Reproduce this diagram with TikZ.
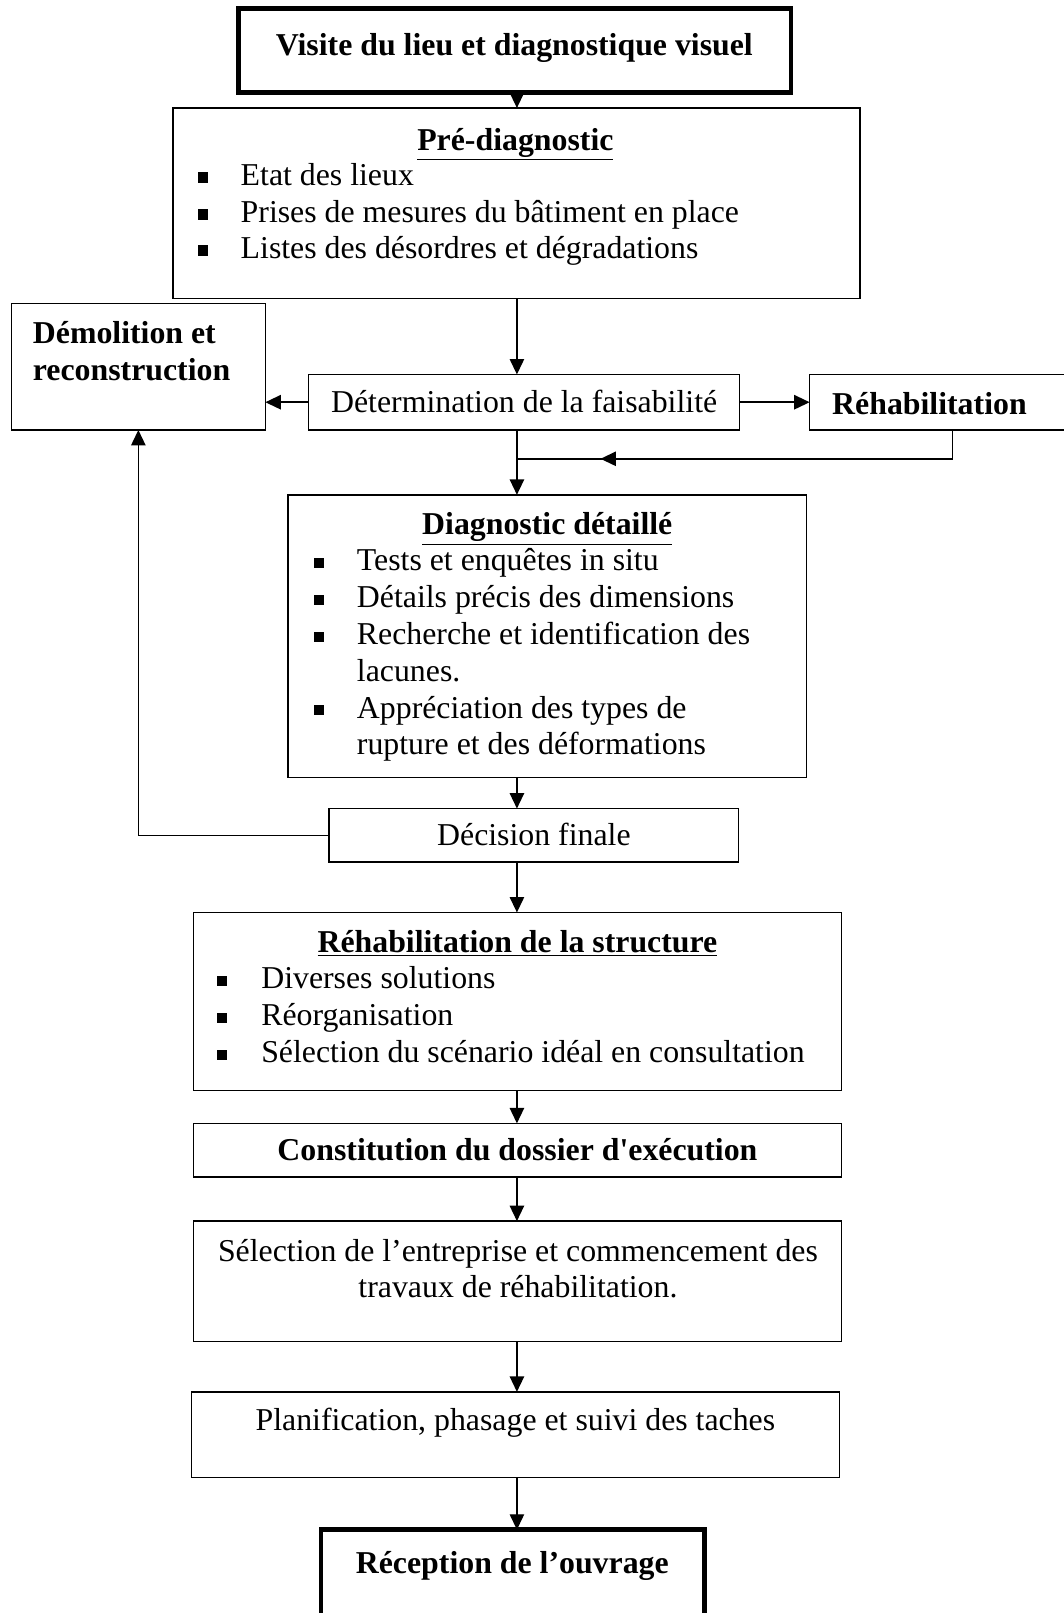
\documentclass[tikz,border=0pt]{standalone}
\usepackage{fontspec}
\setmainfont{Liberation Serif}
\usetikzlibrary{arrows.meta,calc,decorations.markings}
\tikzset{
	boite/.style={draw, line width=0.8pt, inner sep=0, outer sep=0, text height=0.5cm, text depth=0.1cm},
	cadre/.style={draw, line width=2.6pt, inner sep=0, outer sep=0},
	texte/.style={inner sep=0, outer sep=0, text height=0.5cm, text depth=0.1cm},
	puce/.style={fill, inner sep=0, minimum size=0.2cm, yshift=-0.05cm},
	fleche/.style={-{Triangle[length=0.3cm,width=0.28cm]}, line width=0.8pt},
	-<-/.style={decoration={markings,
			mark=at position #1 with {\arrow{Triangle[length=0.3cm,width=0.28cm]}}}, postaction={decorate}}
}

\begin{document}
\begin{tikzpicture}[line width=0.8pt, font=\fontsize{17.6}{21}\selectfont]
	\useasboundingbox (0,0) rectangle (20.68,-31.36);
	\coordinate (axe) at (10.05,0);
	% boites
	\node[cadre, minimum width=10.74cm, minimum height=1.64cm] (visite) at (10.01,-0.98) {};
	\node[texte] (visitel) at (10.0,-0.88) {\textbf{Visite du lieu et diagnostique visuel}};
	\node[boite, minimum width=13.36cm, minimum height=3.7cm] (prediag) at (10.04,-3.95) {};
	\node[texte] (prediagl) at (10.02,-2.72) {\underline{\textbf{Pré-diagnostic}}};
	\node[puce] (p11) at (3.94,-3.40) {};
	\node[texte, anchor=west] (p11l) at (4.68,-3.40) {Etat des lieux};
	\node[puce] (p12) at (3.94,-4.12) {};
	\node[texte, anchor=west] (p12l) at (4.68,-4.12) {Prises de mesures du bâtiment en place};
	\node[puce] (p13) at (3.94,-4.82) {};
	\node[texte, anchor=west] (p13l) at (4.68,-4.82) {Listes des désordres et dégradations};
	\node[boite, minimum width=4.94cm, minimum height=2.46cm] (demol) at (2.69,-7.13) {};
	\node[texte, anchor=west] (demoll1) at (0.64,-6.48) {\textbf{Démolition et}};
	\node[texte, anchor=west] (demoll2) at (0.64,-7.20) {\textbf{reconstruction}};
	\node[boite, minimum width=8.38cm, minimum height=1.08cm] (determ) at (10.19,-7.82) {Détermination de la faisabilité};
	\node[boite, minimum width=5.56cm, minimum height=1.08cm] (rehab) at (18.52,-7.82) {};
	\node[texte, anchor=west] (rehabl) at (16.18,-7.86) {\textbf{Réhabilitation}};
	\node[boite, minimum width=10.08cm, minimum height=5.5cm] (diag) at (10.64,-12.37) {};
	\node[texte] (diagl) at (10.64,-10.20) {\underline{\textbf{Diagnostic détaillé}}};
	\node[puce] (p21) at (6.20,-10.90) {};
	\node[texte, anchor=west] (p21l) at (6.94,-10.90) {Tests et enquêtes in situ};
	\node[puce] (p22) at (6.20,-11.62) {};
	\node[texte, anchor=west] (p22l) at (6.94,-11.62) {Détails précis des dimensions};
	\node[puce] (p23) at (6.20,-12.34) {};
	\node[texte, anchor=west] (p23l) at (6.94,-12.34) {Recherche et identification des};
	\node[texte, anchor=west] (p23m) at (6.94,-13.04) {lacunes.};
	\node[puce] (p24) at (6.20,-13.76) {};
	\node[texte, anchor=west] (p24l) at (6.94,-13.76) {Appréciation des types de};
	\node[texte, anchor=west] (p24m) at (6.94,-14.46) {rupture et des déformations};
	\node[boite, minimum width=7.96cm, minimum height=1.04cm] (decision) at (10.38,-16.24) {Décision finale};
	\node[boite, minimum width=12.6cm, minimum height=3.46cm] (rstruct) at (10.06,-19.47) {};
	\node[texte] (rstructl) at (10.06,-18.32) {\underline{\textbf{Réhabilitation de la structure}}};
	\node[puce] (p31) at (4.32,-19.02) {};
	\node[texte, anchor=west] (p31l) at (5.08,-19.02) {Diverses solutions};
	\node[puce] (p32) at (4.32,-19.74) {};
	\node[texte, anchor=west] (p32l) at (5.08,-19.74) {Réorganisation};
	\node[puce] (p33) at (4.32,-20.46) {};
	\node[texte, anchor=west] (p33l) at (5.08,-20.46) {Sélection du scénario idéal en consultation};
	\node[boite, minimum width=12.6cm, minimum height=1.04cm] (constit) at (10.06,-22.36) {\textbf{Constitution du dossier d\textquotesingle exécution}};
	\node[boite, minimum width=12.6cm, minimum height=2.34cm] (select) at (10.06,-24.91) {};
	\node[texte] (selectl1) at (10.07,-24.32) {Sélection de l’entreprise et commencement des};
	\node[texte] (selectl2) at (10.07,-25.02) {travaux de réhabilitation.};
	\node[boite, minimum width=12.6cm, minimum height=1.66cm] (planif) at (10.02,-27.89) {};
	\node[texte] (planifl) at (10.02,-27.62) {Planification, phasage et suivi des taches};
	\node[cadre, minimum width=7.46cm, minimum height=2.6cm] (recept) at (9.97,-31.04) {};
	\node[texte] (receptl) at (9.96,-30.40) {\textbf{Réception de l’ouvrage}};
	% fleches
	\draw[fleche] (visite.south -| axe) -- (prediag.north -| axe);
	\draw[fleche] (prediag.south -| axe) -- (determ.north -| axe);
	\draw[fleche] (determ.west) -- (determ.west -| demol.east);
	\draw[fleche] (determ.east) -- (determ.east -| rehab.west);
	\coordinate (jonction) at ($(determ.south -| axe)+(0,-0.56)$);
	\draw[-<-=0.82] (rehab.south) |- (jonction);
	\draw[fleche] (determ.south -| axe) -- (diag.north -| axe);
	\draw[fleche] (diag.south -| axe) -- (decision.north -| axe);
	\draw[fleche] (decision.west) -| (demol.south);
	\draw[fleche] (decision.south -| axe) -- (rstruct.north -| axe);
	\draw[fleche] (rstruct.south -| axe) -- (constit.north -| axe);
	\draw[fleche] (constit.south -| axe) -- (select.north -| axe);
	\draw[fleche] (select.south -| axe) -- (planif.north -| axe);
	\draw[fleche] (planif.south -| axe) -- (recept.north -| axe);
\end{tikzpicture}
\end{document}
